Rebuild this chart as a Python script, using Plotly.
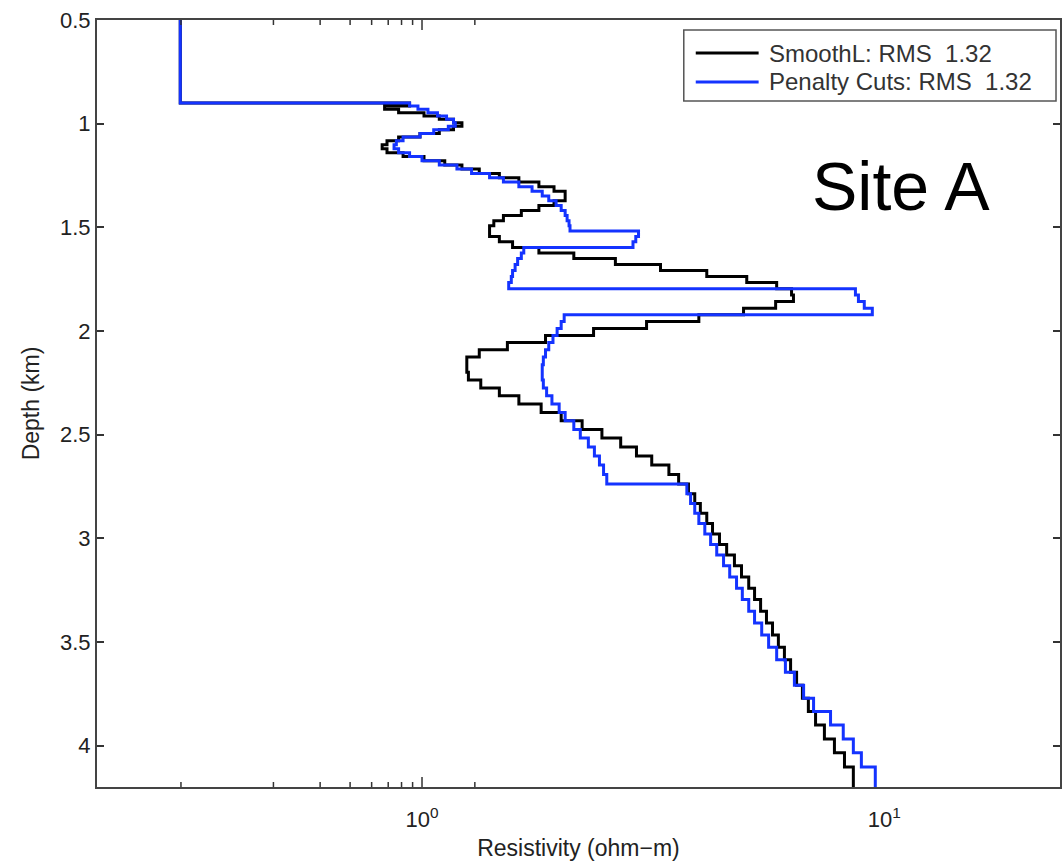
import math
import plotly.graph_objects as go

# Layer top depths (km); first entry is the water column top of the view
layer_top_km = [0.5,
    0.900, 0.915, 0.931, 0.947, 0.963, 0.979, 0.996, 1.013, 1.030, 1.048,
    1.065, 1.083, 1.102, 1.121, 1.140, 1.159, 1.179, 1.199, 1.219, 1.240,
    1.261, 1.282, 1.304, 1.326, 1.349, 1.372, 1.395, 1.419, 1.443, 1.468,
    1.492, 1.518, 1.544, 1.570, 1.597, 1.624, 1.651, 1.679, 1.708, 1.737,
    1.766, 1.797, 1.827, 1.858, 1.890, 1.922, 1.955, 1.988, 2.022, 2.056,
    2.091, 2.126, 2.163, 2.199, 2.237, 2.275, 2.313, 2.353, 2.393, 2.433,
    2.475, 2.517, 2.560, 2.603, 2.647, 2.692, 2.738, 2.785, 2.832, 2.880,
    2.929, 2.979, 3.030, 3.081, 3.133, 3.187, 3.241, 3.296, 3.352, 3.409,
    3.467, 3.526, 3.586, 3.647, 3.709, 3.772, 3.836, 3.901, 3.968, 4.035,
    4.104, 4.173]
model_bottom_km = 4.244

smoothl_ohm_m = [0.3,
    0.94, 0.83, 0.89, 1.01, 1.09, 1.17, 1.22, 1.17, 1.09, 0.99,
    0.89, 0.84, 0.82, 0.84, 0.91, 1.01, 1.12, 1.22, 1.33, 1.47,
    1.62, 1.79, 1.93, 2.04, 2.04, 1.93, 1.79, 1.64, 1.50, 1.43,
    1.40, 1.40, 1.47, 1.57, 1.79, 2.13, 2.62, 3.28, 4.13, 5.04,
    5.85, 6.30, 6.36, 5.82, 4.96, 3.97, 3.06, 2.35, 1.85, 1.53,
    1.33, 1.25, 1.25, 1.26, 1.34, 1.47, 1.62, 1.81, 2.00, 2.22,
    2.45, 2.69, 2.91, 3.14, 3.42, 3.59, 3.77, 3.89, 4.00, 4.13,
    4.25, 4.40, 4.56, 4.74, 4.91, 5.09, 5.24, 5.40, 5.56, 5.73,
    5.90, 6.08, 6.27, 6.46, 6.65, 6.85, 7.10, 7.42, 7.80, 8.20,
    8.57, 8.57]

penalty_ohm_m = [0.3,
    0.94, 0.98, 1.03, 1.08, 1.13, 1.17, 1.18, 1.14, 1.06, 0.99,
    0.91, 0.88, 0.87, 0.89, 0.94, 1.00, 1.09, 1.19, 1.28, 1.40,
    1.50, 1.62, 1.73, 1.82, 1.88, 1.95, 2.00, 2.04, 2.06, 2.08,
    2.09, 2.94, 2.90, 2.86, 1.66, 1.64, 1.61, 1.59, 1.57, 1.56,
    1.54, 8.66, 8.79, 9.05, 9.42, 2.03, 2.00, 1.96, 1.92, 1.88,
    1.85, 1.83, 1.82, 1.82, 1.83, 1.86, 1.91, 1.98, 2.04, 2.13,
    2.20, 2.29, 2.36, 2.42, 2.47, 2.51, 3.74, 3.81, 3.89, 3.97,
    4.09, 4.21, 4.34, 4.49, 4.63, 4.79, 4.93, 5.09, 5.24, 5.43,
    5.62, 5.85, 6.11, 6.39, 6.69, 7.03, 7.65, 8.15, 8.57, 8.92,
    9.56, 9.56]

series_names = ["SmoothL: RMS  1.32", "Penalty Cuts: RMS  1.32"]
series_colors = ["#000000", "#1433ff"]

y_ticks = [0.5, 1, 1.5, 2, 2.5, 3, 3.5, 4]
x_ticks = [1, 10]
x_tick_text = ["10<sup>0</sup>", "10<sup>1</sup>"]
x_minor = [0.3, 0.4, 0.5, 0.6, 0.7, 0.8, 0.9, 2, 3, 4, 5, 6, 7, 8, 9, 20]

FONT = "Liberation Sans, Arial, Helvetica, sans-serif"

fig = go.Figure()
for name, vals, col in [(series_names[0], smoothl_ohm_m, series_colors[0]),
                        (series_names[1], penalty_ohm_m, series_colors[1])]:
    fig.add_trace(go.Scatter(
        x=vals + [vals[-1]], y=layer_top_km + [model_bottom_km],
        mode="lines", name=name, line=dict(color=col, width=3, shape="vh"),
        showlegend=False))

W, H = 1064, 862
L, R, T, B = 97, 1062, 20, 787


def px(xp):
    return (xp - L) / (R - L)


def py(yp):
    return (B - yp) / (B - T)


# manual legend box
fig.add_shape(type="rect", xref="paper", yref="paper",
              x0=px(685), x1=px(1058), y0=py(101), y1=py(30),
              line=dict(color="#555555", width=1.5), fillcolor="white")
for i, (name, col) in enumerate(zip(series_names, series_colors)):
    yy = py(53 + 29 * i)
    fig.add_shape(type="line", xref="paper", yref="paper",
                  x0=px(697), x1=px(760), y0=yy, y1=yy,
                  line=dict(color=col, width=3))
    fig.add_annotation(xref="paper", yref="paper", x=px(768), y=yy,
                       text=name, showarrow=False, xanchor="left",
                       yanchor="middle",
                       font=dict(family=FONT, size=24, color="#333333"))

fig.add_annotation(xref="paper", yref="paper", x=px(903), y=py(186),
                   text="Site A", showarrow=False, xanchor="center",
                   yanchor="middle",
                   font=dict(family=FONT, size=68, color="#000000"))

# tick marks on the log axis (bottom and top edges); shapes on a log axis take log10 positions
tick_len = {"minor": 5, "major": 10}
for kind, vals in [("minor", x_minor), ("major", x_ticks)]:
    h = tick_len[kind] / (B - T)
    for v in vals:
        lv = math.log10(v)
        for y0, y1 in [(0.0, h), (1.0, 1.0 - h)]:
            fig.add_shape(type="line", xref="x", yref="paper",
                          x0=lv, x1=lv, y0=y0, y1=y1,
                          line=dict(color="#333333", width=1.5))

fig.update_layout(
    width=W, height=H,
    margin=dict(l=L, r=W - R, t=T, b=H - B),
    plot_bgcolor="white", paper_bgcolor="white",
    font=dict(family=FONT, size=22, color="#222222"),
    xaxis=dict(type="log", range=[-0.703, 1.380],
               tickmode="array", tickvals=x_ticks, ticktext=x_tick_text,
               ticks="", 
               showline=True, linecolor="#444", linewidth=2, mirror=True,
               showgrid=False, zeroline=False,
               ticklabelstandoff=12,
               title=dict(text="Resistivity (ohm\u2212m)",
                          font=dict(size=23), standoff=8)),
    yaxis=dict(range=[4.2, 0.5], tickvals=y_ticks,
               ticks="inside", ticklen=7, tickwidth=1.5, tickcolor="#333",
               showline=True, linecolor="#444", linewidth=2, mirror="ticks",
               showgrid=False, zeroline=False,
               title=dict(text="Depth (km)", font=dict(size=23), standoff=14)),
)

fig.write_html("out.html")
